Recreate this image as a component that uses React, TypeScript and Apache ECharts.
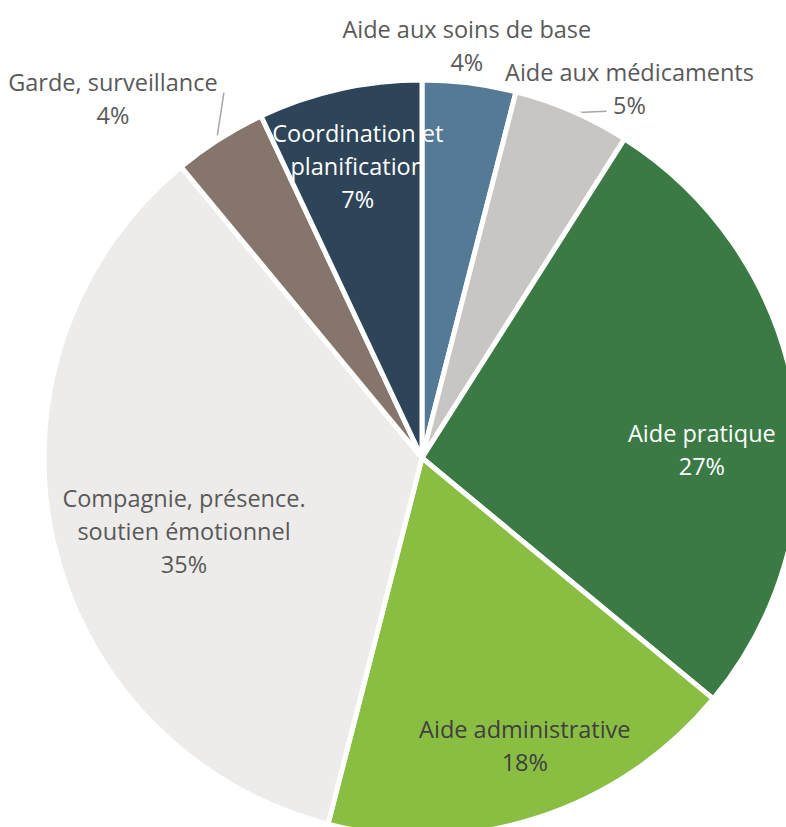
import React, { useEffect, useRef } from 'react';
import * as echarts from 'echarts';

// ---- data ----
const categories = [
  'Aide aux soins de base',
  'Aide aux médicaments',
  'Aide pratique',
  'Aide administrative',
  'Compagnie, présence. soutien émotionnel',
  'Garde, surveillance',
  'Coordination et planification',
];
const displayNames = [
  'Aide aux soins de base',
  'Aide aux médicaments',
  'Aide pratique',
  'Aide administrative',
  'Compagnie, présence.\nsoutien émotionnel',
  'Garde, surveillance',
  'Coordination et\nplanification',
];
const values = [4, 5, 27, 18, 35, 4, 7];

// ---- styles ----
const colors = ['#557A96', '#C9C5C2', '#3B7A45', '#8ABE42', '#EDECEA', '#85756C', '#2E4559'];
const labelColors = ['#595959', '#595959', '#FFFFFF', '#404040', '#595959', '#595959', '#FFFFFF'];
const insideLabel = [false, false, true, true, true, false, true];
const showLeader = [false, true, false, false, false, true, false];
// label anchor in polar form: [distance from centre, angle clockwise from top in degrees]
const labelAnchors: number[][] = [
  [415, 6.2],
  [424, 29.3],
  [280, 88.2],
  [305, 160.3],
  [249, 252.9],
  [474, 319.3],
  [299, 347.6],
];
// leader-line end offsets relative to the label anchor
const leaderEnds: number[][] = [[0, 0], [-23, 23], [0, 0], [0, 0], [0, 0], [111, -6], [0, 0]];
const leaderStartRadius = [0, 376, 0, 0, 0, 382, 0];

const CX = 422;
const CY = 458;
const R = 378;

function polar(dist: number, deg: number): number[] {
  const a = (deg * Math.PI) / 180;
  return [CX + dist * Math.sin(a), CY - dist * Math.cos(a)];
}

export default function App() {
  const ref = useRef<HTMLDivElement>(null);

  useEffect(() => {
    document.body.style.margin = '0';
    if (!ref.current) return;
    const chart = echarts.init(ref.current, null, { renderer: 'svg' });
    const total = values.reduce((s, v) => s + v, 0);
    const midAngles: number[] = [];
    let cum = 0;
    values.forEach((v) => {
      midAngles.push(((cum + v / 2) / total) * 360);
      cum += v;
    });

    const data = values.map((v, i) => ({
      name: displayNames[i],
      value: v,
      itemStyle: { color: colors[i] },
      label: {
        position: insideLabel[i] ? 'inside' : 'outside',
        color: labelColors[i],
      },
      labelLine: {
        show: showLeader[i],
        lineStyle: { color: '#A6A6A6', width: 1.5 },
      },
    }));

    chart.setOption({
      animation: false,
      backgroundColor: '#FFFFFF',
      series: [
        {
          type: 'pie',
          center: [CX, CY],
          radius: [0, R],
          startAngle: 90,
          clockwise: true,
          avoidLabelOverlap: false,
          itemStyle: { borderColor: '#FFFFFF', borderWidth: 5 },
          label: {
            show: true,
            formatter: (p: any) => `${p.name}\n${p.value}%`,
            fontFamily: 'Open Sans',
            fontSize: 23.5,
            lineHeight: 33,
            align: 'center',
          },
          labelLine: { length: 10, length2: 10 },
          labelLayout: (params: any) => {
            const i = params.dataIndex;
            const [lx, ly] = polar(labelAnchors[i][0], labelAnchors[i][1]);
            const out: any = { x: lx, y: ly, align: 'center', verticalAlign: 'middle' };
            if (showLeader[i]) {
              const s = polar(leaderStartRadius[i], midAngles[i]);
              const e = [lx + leaderEnds[i][0], ly + leaderEnds[i][1]];
              out.labelLinePoints = [s, [(s[0] + e[0]) / 2, (s[1] + e[1]) / 2], e];
            }
            return out;
          },
          data,
        },
      ],
    });
    return () => chart.dispose();
  }, []);

  return (
    <div
      ref={ref}
      style={{ position: 'fixed', left: 0, top: 0, width: 786, height: 827 }}
    />
  );
}
